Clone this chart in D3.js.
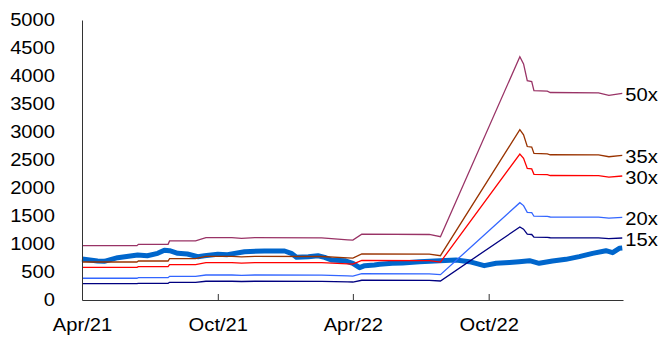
<!DOCTYPE html>
<html>
<head>
<meta charset="utf-8">
<script src="https://cdn.jsdelivr.net/npm/d3@7"></script>
<style>
  body { margin: 0; background: #fff; }
  text { font-family: "Liberation Sans", Arial, sans-serif; }
</style>
</head>
<body>
<div id="chart"></div>
<script>
// multiples of earnings drawn as bands
const multiples = [50, 35, 30, 20, 15];
const bandLabels = ["50x", "35x", "30x", "20x", "15x"];

// earnings per share (stepwise)
const epsDates = ["2021-04-01", "2021-06-14", "2021-06-16", "2021-07-26", "2021-07-28", "2021-09-01",
    "2021-09-15", "2021-10-20", "2021-11-02", "2021-11-20", "2022-02-18", "2022-03-25", "2022-04-01",
    "2022-04-13", "2022-07-13", "2022-07-28", "2022-11-12", "2022-11-17", "2022-11-22", "2022-11-28",
    "2022-12-01", "2022-12-19", "2022-12-23", "2023-02-26", "2023-03-12", "2023-03-30"];
const epsValues = [19.4, 19.4, 19.9, 19.9, 21.1, 21.1,
    22.3, 22.3, 22.0, 22.3, 22.2, 21.5, 21.4,
    23.5, 23.4, 22.6, 86.9, 84.3, 78.3, 78.0,
    74.8, 74.6, 74.1, 74.0, 73.1, 73.8];

// index level (thick blue line)
const priceDates = ["2021-04-01", "2021-04-22", "2021-05-01", "2021-05-19", "2021-06-15", "2021-06-28",
    "2021-07-12", "2021-07-21", "2021-07-28", "2021-08-08", "2021-08-21", "2021-09-04", "2021-09-13",
    "2021-10-01", "2021-10-14", "2021-11-06", "2021-12-03", "2021-12-30", "2022-01-08", "2022-01-15",
    "2022-01-31", "2022-02-13", "2022-02-22", "2022-03-03", "2022-03-21", "2022-04-01", "2022-04-10",
    "2022-04-17", "2022-04-30", "2022-05-07", "2022-05-24", "2022-06-07", "2022-06-30", "2022-07-27",
    "2022-08-18", "2022-09-05", "2022-09-25", "2022-10-11", "2022-10-29", "2022-11-11", "2022-11-25",
    "2022-12-08", "2022-12-26", "2023-01-13", "2023-01-31", "2023-02-18", "2023-03-08", "2023-03-17",
    "2023-03-26", "2023-03-30"];
const priceValues = [732, 696, 690, 756, 804, 791,
    833, 890, 880, 833, 821, 774, 791,
    816, 810, 863, 875, 875, 833, 762,
    774, 791, 762, 714, 702, 655, 577,
    613, 625, 637, 655, 661, 684, 702,
    714, 684, 613, 655, 670, 684, 702,
    655, 696, 726, 774, 833, 880, 845,
    923, 929];

const yTickValues = [0, 500, 1000, 1500, 2000, 2500, 3000, 3500, 4000, 4500, 5000];
const xTickDates = ["2021-04-01", "2021-10-01", "2022-04-01", "2022-10-01"];
const xTickLabels = ["Apr/21", "Oct/21", "Apr/22", "Oct/22"];

const bandColors = ["#993366", "#993300", "#ff0000", "#3366ff", "#000080"];
const priceColor = "#0066cc";

const width = 666;
const height = 343;
const margin = { top: 20, right: 43, bottom: 43, left: 82 };
const textScale = 1.12;

const parse = d3.timeParse("%Y-%m-%d");

const svg = d3.select("#chart")
    .append("svg")
    .attr("width", width)
    .attr("height", height);

const x = d3.scaleTime()
    .domain([parse("2021-04-01"), parse("2023-03-31")])
    .range([margin.left, width - margin.right]);

const y = d3.scaleLinear()
    .domain([0, 5000])
    .range([height - margin.bottom, margin.top]);

const line = d3.line()
    .x(d => x(d.date))
    .y(d => y(d.value));

// index line goes under the bands
const priceData = priceDates.map((d, i) => ({ date: parse(d), value: priceValues[i] }));
svg.append("path")
    .datum(priceData)
    .attr("fill", "none")
    .attr("stroke", priceColor)
    .attr("stroke-width", 5)
    .attr("stroke-linejoin", "round")
    .attr("d", line);

// bands = eps * multiple
multiples.forEach((m, k) => {
    const data = epsDates.map((d, i) => ({ date: parse(d), value: epsValues[i] * m }));
    svg.append("path")
        .datum(data)
        .attr("fill", "none")
        .attr("stroke", bandColors[k])
        .attr("stroke-width", 1.3)
        .attr("d", line);

    const last = data[data.length - 1];
    svg.append("text")
        .attr("transform", `translate(${x(last.date) + 3}, ${y(last.value) + 1.5}) scale(${textScale},1)`)
        .attr("dy", "0.35em")
        .style("font-size", "18px")
        .style("fill", "#000")
        .text(bandLabels[k]);
});

// Y axis
const yAxis = svg.append("g")
    .attr("transform", `translate(${margin.left}, 0)`)
    .call(d3.axisLeft(y)
        .tickValues(yTickValues)
        .tickFormat(d3.format("d"))
        .tickSizeInner(0)
        .tickSizeOuter(0)
        .tickPadding(27));
yAxis.select(".domain").attr("stroke", "#333");
yAxis.selectAll("text")
    .attr("x", -27 / textScale)
    .attr("transform", `scale(${textScale},1)`)
    .style("font-size", "18px")
    .style("fill", "#000");

// X axis, ticks pointing up into the plot
const xAxis = svg.append("g")
    .attr("transform", `translate(0, ${height - margin.bottom})`)
    .call(d3.axisBottom(x)
        .tickValues(xTickDates.map(parse))
        .tickFormat((d, i) => xTickLabels[i])
        .tickSizeInner(-6)
        .tickSizeOuter(0)
        .tickPadding(18));
xAxis.select(".domain").attr("stroke", "#333");
xAxis.selectAll(".tick line").attr("stroke", "#333");
xAxis.selectAll("text")
    .attr("transform", `scale(${textScale},1)`)
    .style("font-size", "18px")
    .style("fill", "#000");
</script>
</body>
</html>
